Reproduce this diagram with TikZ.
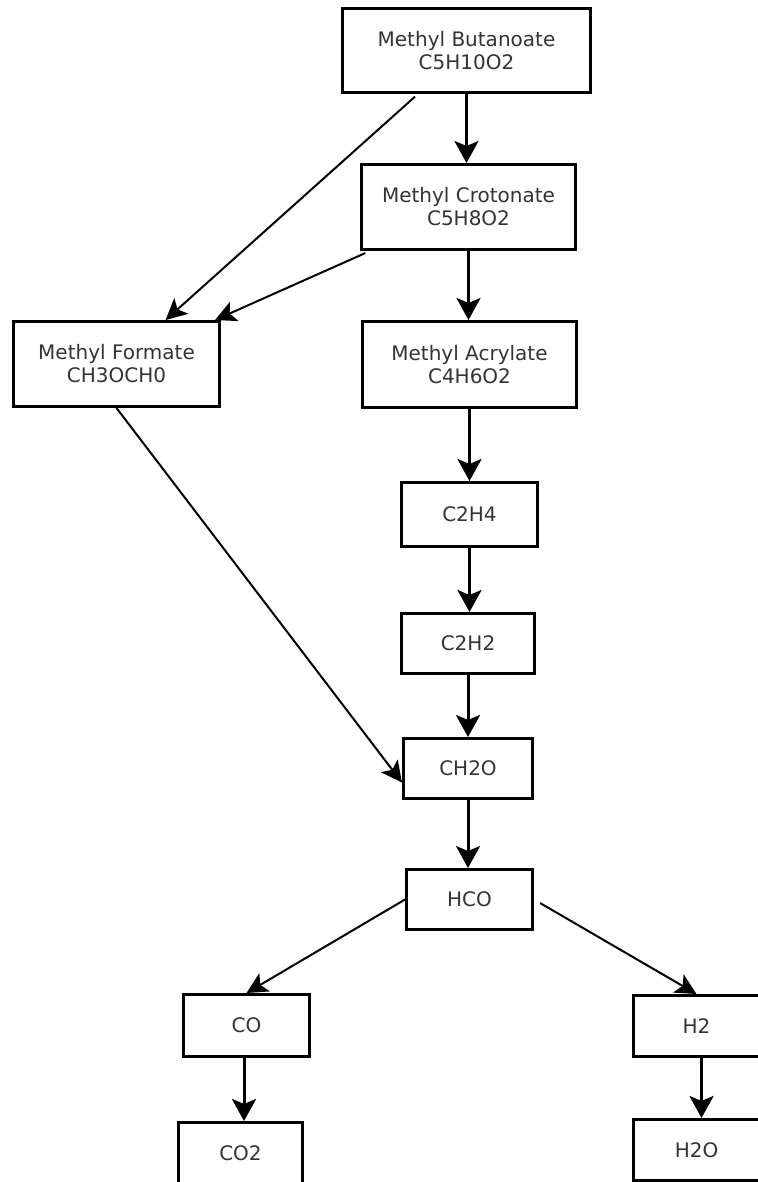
\documentclass[tikz,border=0pt]{standalone}
\usepackage{fontspec}
\setmainfont{DejaVu Sans}
\usetikzlibrary{arrows.meta}
\definecolor{txtgray}{gray}{0.2}
\begin{document}
\begin{tikzpicture}[x=0.5pt,y=-0.5pt,
		box/.style={draw,line width=1.5pt,align=center,text=txtgray,inner sep=0pt,font=\fontsize{10}{11.5}\selectfont},
		arr/.style={line width=1.5pt,-{Stealth[length=11pt,width=12pt,inset=2.5pt]}},
		darr/.style={line width=1pt,-{Stealth[length=10.5pt,width=10.5pt,inset=2.5pt]}}]
			\useasboundingbox (0,0) rectangle (758,1182);
			\clip (0,0) rectangle (758,1182);
			% species
			\node[box,minimum width=124pt,minimum height=42pt] (mb) at (466.5,50.5) {Methyl Butanoate\\C5H10O2};
			\node[box,minimum width=107pt,minimum height=42.5pt] (mc) at (468.5,207) {Methyl Crotonate\\C5H8O2};
			\node[box,minimum width=103pt,minimum height=42.5pt] (mf) at (116.5,364) {Methyl Formate\\CH3OCH0};
			\node[box,minimum width=107pt,minimum height=43pt] (ma) at (469.5,364.5) {Methyl Acrylate\\C4H6O2};
			\node[box,minimum width=68pt,minimum height=32pt] (c2h4) at (469.5,514.5) {C2H4};
			\node[box,minimum width=66.5pt,minimum height=30pt] (c2h2) at (468,643.5) {C2H2};
			\node[box,minimum width=64.5pt,minimum height=30pt] (ch2o) at (468,768.5) {CH2O};
			\node[box,minimum width=63pt,minimum height=30pt] (hco) at (469.5,899.5) {HCO};
			\node[box,minimum width=63pt,minimum height=31pt] (co) at (246.5,1025.5) {CO};
			\node[box,minimum width=63pt,minimum height=30.5pt] (h2) at (696.5,1026) {H2};
			\node[box,minimum width=62pt,minimum height=30.5pt] (co2) at (240.5,1153) {CO2};
			\node[box,minimum width=63pt,minimum height=30.5pt] (h2o) at (696.5,1150) {H2O};
			% reactions
			\draw[arr] (mb.south) -- (mb.south |- mc.north);
			\draw[darr,shorten <=2pt] (mb) -- (mf);
			\draw[darr,shorten <=2.5pt] (mc) -- (mf);
			\draw[arr] (mc.south) -- (mc.south |- ma.north);
			\draw[darr] (mf.south) -- (ch2o.192);
			\draw[arr] (ma.south) -- (ma.south |- c2h4.north);
			\draw[arr] (c2h4.south) -- (c2h4.south |- c2h2.north);
			\draw[arr] (c2h2.south) -- (c2h2.south |- ch2o.north);
			\draw[arr] (ch2o.south) -- (ch2o.south |- hco.north);
			\draw[darr] (hco.west) -- (co.north);
			\draw[darr,shorten <=3.5pt] (hco.east) -- (h2.north);
			\draw[arr] ([xshift=-1.25pt]co.south) -- ([xshift=-1.25pt]co.south |- co2.north);
			\draw[arr] ([xshift=2.5pt]h2.south) -- ([xshift=2.5pt]h2.south |- h2o.north);
	\end{tikzpicture}
\end{document}
